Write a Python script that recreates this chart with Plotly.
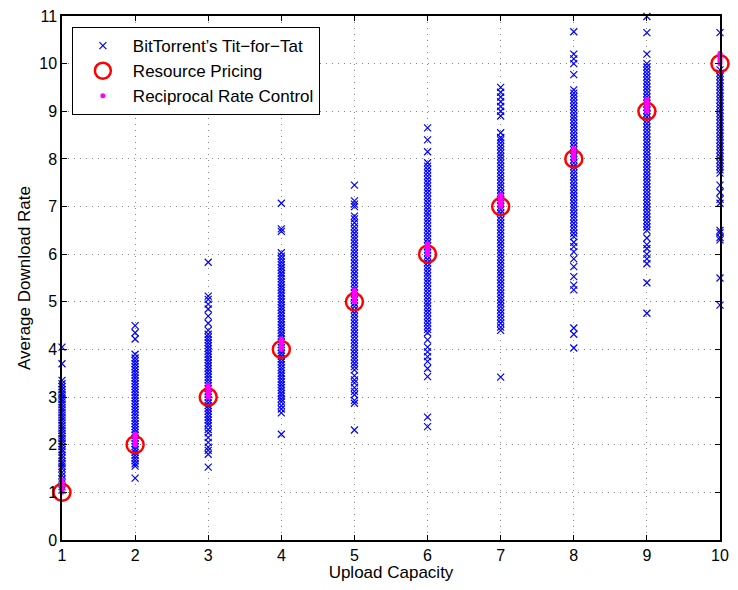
import plotly.graph_objects as go

capacities = [1, 2, 3, 4, 5, 6, 7, 8, 9, 10]

tft_c1 = [1.05, 1.12, 1.2, 1.28, 1.35, 1.42, 1.5, 1.55, 1.6, 1.65, 1.72, 1.78, 1.85, 1.9, 1.96, 2.02, 2.08, 2.13, 2.18, 2.24, 2.3, 2.35, 2.4, 2.46, 2.52, 2.57, 2.62, 2.68, 2.73, 2.78, 2.84, 2.9, 2.95, 3.0, 3.05, 3.1, 3.16, 3.22, 3.28, 3.35, 3.7, 4.05]
tft_c2 = [1.3, 1.55, 1.6, 1.66, 1.72, 1.78, 1.84, 1.9, 1.96, 2.02, 2.08, 2.14, 2.2, 2.26, 2.32, 2.38, 2.44, 2.5, 2.56, 2.62, 2.68, 2.74, 2.8, 2.86, 2.92, 2.98, 3.04, 3.1, 3.16, 3.22, 3.28, 3.34, 3.4, 3.46, 3.52, 3.58, 3.64, 3.7, 3.76, 3.82, 3.9, 4.22, 4.35, 4.5]
tft_c3 = [1.53, 1.8, 1.88, 1.95, 2.05, 2.15, 2.25, 2.32, 2.4, 2.46, 2.52, 2.58, 2.64, 2.7, 2.76, 2.82, 2.88, 2.94, 3.0, 3.06, 3.12, 3.18, 3.24, 3.3, 3.36, 3.42, 3.48, 3.54, 3.6, 3.66, 3.72, 3.78, 3.84, 3.9, 3.96, 4.02, 4.08, 4.14, 4.2, 4.26, 4.32, 4.4, 4.55, 4.7, 4.85, 4.95, 5.05, 5.12, 5.83]
tft_c4 = [2.22, 2.67, 2.75, 2.82, 2.9, 2.96, 3.02, 3.08, 3.14, 3.2, 3.26, 3.32, 3.38, 3.44, 3.5, 3.56, 3.62, 3.68, 3.74, 3.8, 3.86, 3.92, 3.98, 4.04, 4.1, 4.16, 4.22, 4.28, 4.34, 4.4, 4.46, 4.52, 4.58, 4.64, 4.7, 4.76, 4.82, 4.88, 4.94, 5.0, 5.06, 5.12, 5.18, 5.24, 5.3, 5.36, 5.42, 5.48, 5.54, 5.6, 5.66, 5.72, 5.78, 5.84, 5.9, 5.96, 6.03, 6.48, 6.53, 7.07]
tft_c5 = [2.31, 2.87, 2.93, 3.05, 3.12, 3.2, 3.3, 3.36, 3.45, 3.57, 3.64, 3.71, 3.78, 3.85, 3.92, 3.99, 4.06, 4.13, 4.2, 4.27, 4.34, 4.41, 4.48, 4.55, 4.62, 4.69, 4.76, 4.83, 4.9, 4.97, 5.04, 5.11, 5.18, 5.25, 5.32, 5.39, 5.46, 5.53, 5.6, 5.67, 5.74, 5.81, 5.88, 5.95, 6.02, 6.09, 6.16, 6.23, 6.3, 6.37, 6.44, 6.51, 6.58, 6.66, 6.74, 6.8, 7.0, 7.05, 7.12, 7.45]
tft_c6 = [2.38, 2.58, 3.43, 3.6, 3.75, 3.85, 3.95, 4.05, 4.2, 4.35, 4.42, 4.49, 4.56, 4.63, 4.7, 4.77, 4.84, 4.91, 4.98, 5.05, 5.12, 5.19, 5.26, 5.33, 5.4, 5.47, 5.54, 5.61, 5.68, 5.75, 5.82, 5.89, 5.96, 6.03, 6.1, 6.17, 6.24, 6.31, 6.38, 6.45, 6.52, 6.59, 6.66, 6.73, 6.8, 6.87, 6.94, 7.01, 7.08, 7.15, 7.22, 7.29, 7.36, 7.43, 7.5, 7.57, 7.64, 7.71, 7.78, 7.85, 7.92, 8.15, 8.4, 8.65]
tft_c7 = [3.42, 4.4, 4.47, 4.55, 4.62, 4.69, 4.76, 4.83, 4.9, 4.97, 5.04, 5.11, 5.18, 5.25, 5.32, 5.39, 5.46, 5.53, 5.6, 5.67, 5.74, 5.81, 5.88, 5.95, 6.02, 6.09, 6.16, 6.23, 6.3, 6.37, 6.44, 6.51, 6.58, 6.65, 6.72, 6.79, 6.86, 6.93, 7.0, 7.07, 7.14, 7.21, 7.28, 7.35, 7.42, 7.49, 7.56, 7.63, 7.7, 7.77, 7.84, 7.91, 7.98, 8.05, 8.12, 8.19, 8.26, 8.33, 8.4, 8.45, 8.55, 8.9, 9.0, 9.1, 9.2, 9.3, 9.4, 9.5]
tft_c8 = [4.03, 4.32, 4.45, 5.25, 5.35, 5.53, 5.74, 5.9, 6.05, 6.16, 6.25, 6.37, 6.44, 6.51, 6.58, 6.65, 6.72, 6.79, 6.86, 6.93, 7.0, 7.07, 7.14, 7.21, 7.28, 7.35, 7.42, 7.49, 7.56, 7.63, 7.7, 7.77, 7.84, 7.91, 7.98, 8.05, 8.12, 8.19, 8.26, 8.33, 8.4, 8.47, 8.54, 8.61, 8.68, 8.75, 8.82, 8.89, 8.96, 9.03, 9.1, 9.17, 9.24, 9.31, 9.38, 9.45, 9.77, 10.0, 10.1, 10.2, 10.67]
tft_c9 = [4.76, 5.4, 5.8, 5.9, 6.0, 6.12, 6.2, 6.34, 6.5, 6.57, 6.64, 6.71, 6.78, 6.85, 6.92, 6.99, 7.06, 7.13, 7.2, 7.27, 7.34, 7.41, 7.48, 7.55, 7.62, 7.69, 7.76, 7.83, 7.9, 7.97, 8.04, 8.11, 8.18, 8.25, 8.32, 8.39, 8.46, 8.53, 8.6, 8.67, 8.74, 8.81, 8.88, 8.95, 9.02, 9.09, 9.16, 9.23, 9.3, 9.37, 9.44, 9.51, 9.58, 9.65, 9.72, 9.79, 9.86, 9.93, 10.0, 10.2, 10.65, 10.99]
tft_c10 = [4.93, 5.5, 6.3, 6.35, 6.45, 6.5, 7.07, 7.15, 7.3, 7.45, 7.7, 7.77, 7.84, 7.91, 7.98, 8.05, 8.12, 8.19, 8.26, 8.33, 8.4, 8.47, 8.54, 8.61, 8.68, 8.75, 8.82, 8.89, 8.96, 9.03, 9.1, 9.17, 9.24, 9.31, 9.38, 9.45, 9.52, 9.59, 9.66, 9.73, 9.8, 9.87, 10.65]

pricing_rate = [1, 2, 3, 4, 5, 6, 7, 8, 9, 10]

rrc_c1 = [1.0, 1.04, 1.08, 1.12, 1.16, 1.2, 1.25]
rrc_c2 = [2.0, 2.04, 2.08, 2.12, 2.16, 2.19, 2.22]
rrc_c3 = [3.0, 3.04, 3.08, 3.12, 3.16, 3.2, 3.25]
rrc_c4 = [4.0, 4.04, 4.08, 4.12, 4.16, 4.19, 4.22]
rrc_c5 = [5.0, 5.04, 5.08, 5.12, 5.16, 5.2, 5.25]
rrc_c6 = [6.0, 6.04, 6.08, 6.12, 6.16, 6.19, 6.22]
rrc_c7 = [7.0, 7.04, 7.08, 7.12, 7.16, 7.2, 7.25]
rrc_c8 = [8.0, 8.04, 8.08, 8.12, 8.16, 8.19, 8.22]
rrc_c9 = [9.0, 9.04, 9.08, 9.12, 9.16, 9.2, 9.25]
rrc_c10 = [10.0, 10.04, 10.08, 10.12, 10.16, 10.19, 10.22]

tft_columns = [tft_c1, tft_c2, tft_c3, tft_c4, tft_c5, tft_c6, tft_c7, tft_c8, tft_c9, tft_c10]
rrc_columns = [rrc_c1, rrc_c2, rrc_c3, rrc_c4, rrc_c5, rrc_c6, rrc_c7, rrc_c8, rrc_c9, rrc_c10]

tft_x, tft_y = [], []
for c, col in zip(capacities, tft_columns):
    tft_x += [c] * len(col)
    tft_y += col

rrc_x, rrc_y = [], []
for c, col in zip(capacities, rrc_columns):
    rrc_x += [c] * len(col)
    rrc_y += col

FONT = "Liberation Sans, Arial, sans-serif"

fig = go.Figure()
fig.add_trace(go.Scatter(
    x=tft_x, y=tft_y, mode="markers", name="BitTorrent\u2019s Tit\u2212for\u2212Tat",
    marker=dict(symbol="x-thin", size=7, line=dict(color="#0000ff", width=1.2), color="#0000ff"),
    cliponaxis=False))
fig.add_trace(go.Scatter(
    x=capacities, y=pricing_rate, mode="markers", name="Resource Pricing",
    marker=dict(symbol="circle-open", size=17, color="#ff0000", line=dict(color="#ff0000", width=2.5)),
    cliponaxis=False))
fig.add_trace(go.Scatter(
    x=rrc_x, y=rrc_y, mode="markers", name="Reciprocal Rate Control",
    marker=dict(symbol="circle", size=5, color="#ff00ff"),
    cliponaxis=False))

axis_common = dict(
    showline=True, linecolor="black", linewidth=1.5, mirror="ticks",
    ticks="inside", ticklen=5, tickcolor="black", tickwidth=1,
    showgrid=True, gridcolor="#888888", griddash="1px,5px", gridwidth=1,
    zeroline=False, automargin=False, ticklabeloverflow="allow",
    tickfont=dict(family=FONT, size=16, color="black"),
)

# page body has an 8px default margin; compensate so the plot area sits at the reference position
fig.update_layout(
    width=730, height=574,
    margin=dict(l=54, r=18, t=8, b=42),
    plot_bgcolor="white", paper_bgcolor="white",
    font=dict(family=FONT, size=17, color="black"),
    xaxis=dict(range=[1, 10], tickvals=capacities, **axis_common,
               title=dict(text="Upload Capacity", font=dict(size=17), standoff=3)),
    yaxis=dict(range=[0, 11], tickvals=list(range(0, 12)), **axis_common,
               title=dict(text="Average Download Rate", font=dict(size=17), standoff=4)),
    legend=dict(x=0.015, y=0.979, xanchor="left", yanchor="top",
                bgcolor="white", bordercolor="black", borderwidth=1,
                font=dict(family=FONT, size=17), itemsizing="trace", tracegroupgap=0,
                itemwidth=50),
    showlegend=True,
)

fig.write_html("out.html")
